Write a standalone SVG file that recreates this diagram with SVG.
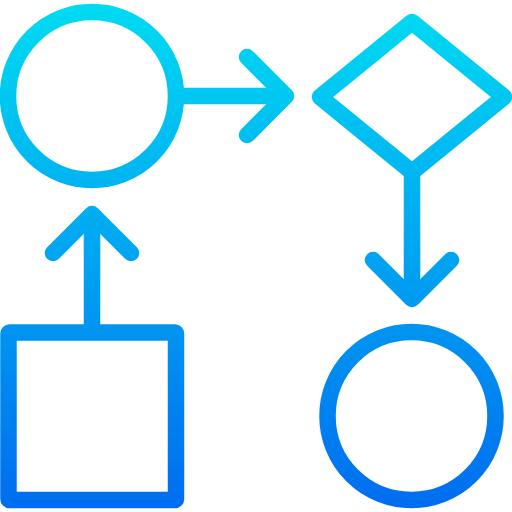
<svg xmlns="http://www.w3.org/2000/svg" width="512" height="512" viewBox="0 0 512 512">
<defs>
<linearGradient id="g" gradientUnits="userSpaceOnUse" x1="0" y1="0" x2="0" y2="512">
<stop offset="0" stop-color="#00dcf2"/>
<stop offset="1" stop-color="#006cf0"/>
</linearGradient>
<style>
.s{fill:none;stroke:url(#g);stroke-width:16.5;stroke-linecap:round;stroke-linejoin:round}
.b{stroke-linecap:butt}
</style>
</defs>
<rect width="512" height="512" fill="#ffffff"/>
<g id="circle-top"><circle class="s" cx="92" cy="96" r="84"/></g>
<g id="diamond"><polygon class="s" points="412,22 504,97 412,172 320,97"/></g>
<g id="circle-bottom"><circle class="s" cx="411.5" cy="416" r="84"/></g>
<g id="square"><rect class="s" x="8.5" y="332.5" width="167.5" height="167.5" rx="1"/></g>
<g id="connectors">
<path class="s b" d="M176 96H285"/>
<path class="s" d="M247 57L286 96L247 135"/>
<path class="s b" d="M412 172V298"/>
<path class="s" d="M373 260L412 299L451 260"/>
<path class="s b" d="M92 332V215"/>
<path class="s" d="M53 253L92 214L131 253"/>
</g>
</svg>
